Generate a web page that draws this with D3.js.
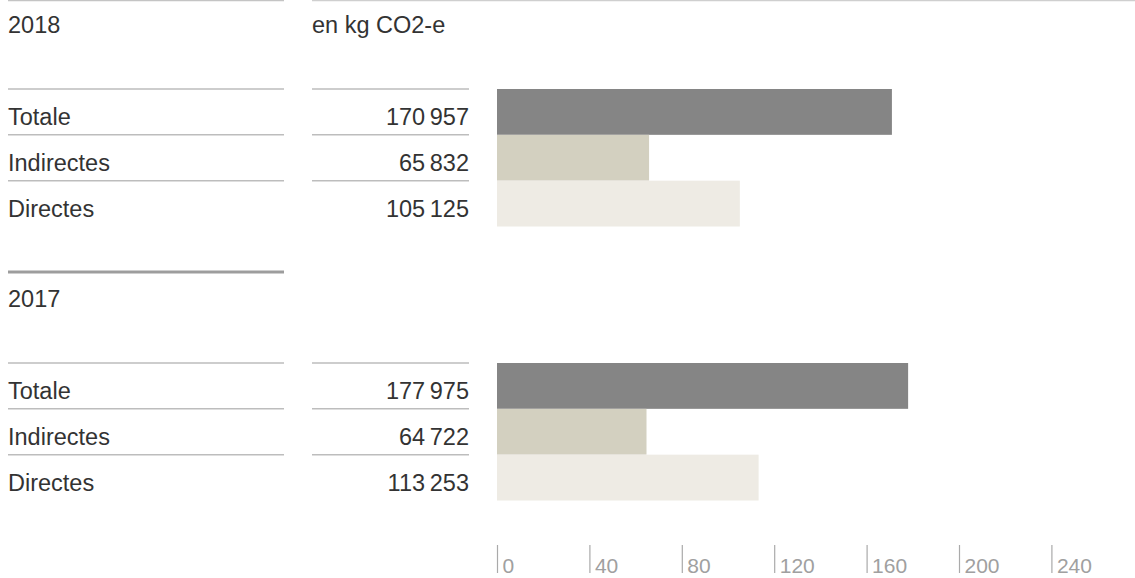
<!DOCTYPE html>
<html>
<head>
<meta charset="utf-8">
<script src="https://cdn.jsdelivr.net/npm/d3@7"></script>
<style>
  body { margin: 0; background: #fff; }
</style>
</head>
<body>
<div class="chart-box"></div>
<script>
// data
const years = ["2018", "2017"];
const categories = ["Totale", "Indirectes", "Directes"];
const values2018 = [170957, 65832, 105125];
const values2017 = [177975, 64722, 113253];
const unitLabel = "en kg CO2-e";
const tickValues = [0, 40, 80, 120, 160, 200, 240];

const colors = {Totale: "#858585", Indirectes: "#d3d0c0", Directes: "#eeebe4"};
const font = "'Liberation Sans', Arial, Helvetica, sans-serif";
const fontSize = 23.5;

const width = 1135, height = 578;

const svg = d3.select(".chart-box").append("svg")
  .attr("width", width)
  .attr("height", height)
  .style("font-family", font);

const fr = d3.formatLocale({decimal: ",", thousands: "\u2009", grouping: [3], currency: ["", " €"]});
const fmt = fr.format(",d");

// bars are in thousands of kg
const x = d3.scaleLinear().domain([0, 240]).range([497, 1051.4]);

const sections = [
  {year: years[0], values: values2018, top: 89},
  {year: years[1], values: values2017, top: 363}
];

const y = d3.scaleBand().domain(categories).range([0, 137.5]).padding(0);

// top rules
svg.append("line").attr("x1", 8).attr("x2", 284).attr("y1", 0.5).attr("y2", 0.5)
  .attr("stroke", "#c4c4c4").attr("stroke-width", 1.5);
svg.append("line").attr("x1", 312).attr("x2", width).attr("y1", 0.5).attr("y2", 0.5)
  .attr("stroke", "#cfcfcf").attr("stroke-width", 1.5);

svg.append("text").attr("x", 312).attr("y", 33)
  .attr("font-family", font)
  .attr("font-size", fontSize).attr("fill", "#333").text(unitLabel);

// separator between years
svg.append("line").attr("x1", 8).attr("x2", 284).attr("y1", 272).attr("y2", 272)
  .attr("stroke", "#9d9d9d").attr("stroke-width", 3);

sections.forEach(s => {
  const g = svg.append("g").attr("transform", "translate(0," + s.top + ")");

  svg.append("text").attr("x", 8).attr("y", s.top - 56)
    .attr("font-family", font)
    .attr("font-size", fontSize).attr("fill", "#333").text(s.year);

  const rows = categories.map((c, i) => ({cat: c, value: s.values[i]}));

  g.selectAll("rect.bar").data(rows).enter().append("rect")
    .attr("class", "bar")
    .attr("x", x(0))
    .attr("y", d => y(d.cat))
    .attr("width", d => x(d.value / 1000) - x(0))
    .attr("height", y.bandwidth())
    .attr("fill", d => colors[d.cat]);

  // rules above each row
  categories.forEach(c => {
    const yy = y(c);
    g.append("line").attr("x1", 8).attr("x2", 284)
      .attr("y1", yy).attr("y2", yy).attr("stroke", "#bdbdbd").attr("stroke-width", 1.5);
    g.append("line").attr("x1", 312).attr("x2", 469)
      .attr("y1", yy).attr("y2", yy).attr("stroke", "#bdbdbd").attr("stroke-width", 1.5);
  });

  g.selectAll("text.cat").data(rows).enter().append("text")
    .attr("class", "cat")
    .attr("x", 8)
    .attr("y", d => y(d.cat) + 36)
    .attr("font-family", font)
    .attr("font-size", fontSize).attr("fill", "#333")
    .text(d => d.cat);

  g.selectAll("text.val").data(rows).enter().append("text")
    .attr("class", "val")
    .attr("x", 469)
    .attr("y", d => y(d.cat) + 36)
    .attr("text-anchor", "end")
    .attr("font-family", font)
    .attr("font-size", fontSize).attr("fill", "#333")
    .text(d => fmt(d.value));
});

// axis
const axis = svg.append("g")
  .attr("transform", "translate(0,545)")
  .call(d3.axisBottom(x).tickValues(tickValues).tickSize(28).tickFormat(d3.format("d")));

axis.select(".domain").remove();
axis.selectAll(".tick line").attr("stroke", "#aaa").attr("stroke-width", 1.2);
axis.selectAll(".tick text")
  .attr("x", 5).attr("y", 28).attr("dy", 0)
  .attr("text-anchor", "start")
  .attr("font-size", 21).attr("fill", "#a0a0a0")
  .attr("font-family", font);
</script>
</body>
</html>
